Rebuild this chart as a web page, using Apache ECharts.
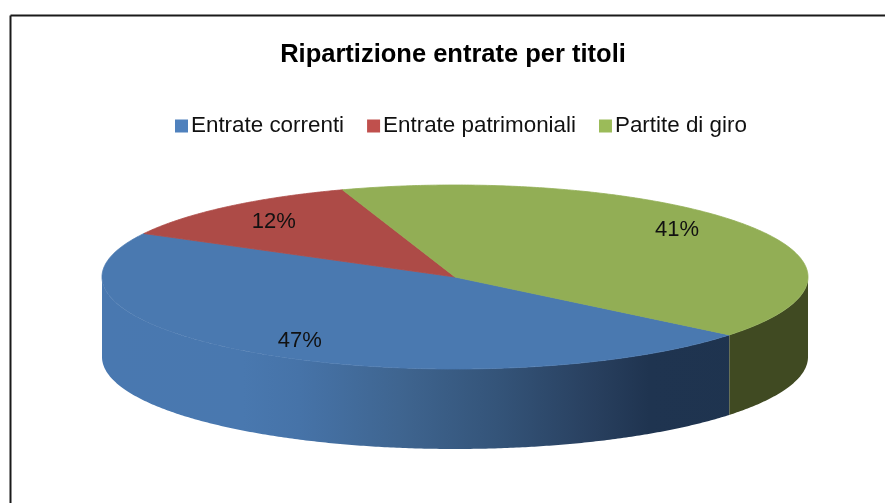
<!DOCTYPE html>
<html>
<head>
<meta charset="utf-8">
<style>html,body{margin:0;padding:0;background:#fff}#c{width:885px;height:503px}</style>
<script src="https://cdn.jsdelivr.net/npm/echarts@6/dist/echarts.min.js"></script>
</head>
<body>
<div id="c"></div>
<script>
const categories = ['Entrate correnti', 'Entrate patrimoniali', 'Partite di giro'];
const values = [47, 12, 41];
const percentLabels = ['47%', '12%', '41%'];
const legendColors = ['#4F81BD', '#C0504D', '#9BBB59'];
const topColors = ['#4A79B0', '#AD4B47', '#92AE55'];
const titleText = 'Ripartizione entrate per titoli';

// Layout of the tilted disc (pixels)
const disc = { cx: 455, cy: 277, rx: 353, ry: 92, depth: 80, startDeg: 39 };
const labelRadius = [0.8, 0.8, 0.78];
const labelNudge = [[1, 3], [1, 1], [-4, -6]];
const font = '"Liberation Sans", Arial, sans-serif';

const total = values.reduce((a, b) => a + b, 0);
const spans = [];
values.reduce((acc, v) => {
  const a0 = acc, a1 = acc + v / total * 360;
  spans.push([a0, a1]);
  return a1;
}, disc.startDeg);

const pt = (deg, dy) => {
  const r = deg * Math.PI / 180;
  return [disc.cx + disc.rx * Math.cos(r), disc.cy + disc.ry * Math.sin(r) + (dy || 0)];
};
const arcPts = (a0, a1, dy) => {
  const out = [], n = Math.max(2, Math.ceil(Math.abs(a1 - a0) * 2));
  for (let i = 0; i <= n; i++) out.push(pt(a0 + (a1 - a0) * i / n, dy));
  return out;
};

// The near wall is visible where the rim runs along the front of the disc
function wallRanges(a0, a1) {
  const res = [];
  for (const k of [-360, 0, 360]) {
    const s = Math.max(a0, k), e = Math.min(a1, k + 180);
    if (e > s) res.push([s, e]);
  }
  return res;
}
const wallFill = [
  { type: 'linear', x: disc.cx - disc.rx, y: 0, x2: disc.cx + disc.rx, y2: 0, global: true,
    colorStops: [
      { offset: 0, color: '#4978B0' },
      { offset: 0.2, color: '#4978AF' },
      { offset: 0.28, color: '#4673A8' },
      { offset: 0.42, color: '#3F6590' },
      { offset: 0.56, color: '#345479' },
      { offset: 0.7, color: '#283F5E' },
      { offset: 0.775, color: '#1F3450' },
      { offset: 1, color: '#1E334E' }
    ] },
  '#7B3331',
  '#404A22'
];

const makeWalls = idx => ({
  type: 'custom',
  name: categories[idx],
  coordinateSystem: 'none',
  silent: true,
  z: 2,
  itemStyle: { color: legendColors[idx] },
  data: [values[idx]],
  renderItem: () => ({
    type: 'group',
    children: [
      ...wallRanges(spans[idx][0], spans[idx][1]).map(([s, e]) => ({
        type: 'polygon',
        z2: 1,
        shape: { points: [...arcPts(s, e, 0), ...arcPts(e, s, disc.depth)] },
        style: { fill: wallFill[idx] }
      })),
      {
        type: 'polygon',
        z2: 2,
        shape: { points: [[disc.cx, disc.cy], ...arcPts(spans[idx][0], spans[idx][1], 0)] },
        style: { fill: topColors[idx], stroke: topColors[idx], lineWidth: 0.8 }
      },
      {
        type: 'text',
        z2: 3,
        style: (() => {
          const mid = (spans[idx][0] + spans[idx][1]) / 2 * Math.PI / 180;
          return {
            x: disc.cx + disc.rx * labelRadius[idx] * Math.cos(mid) + labelNudge[idx][0],
            y: disc.cy + disc.ry * labelRadius[idx] * Math.sin(mid) + labelNudge[idx][1],
            text: percentLabels[idx],
            align: 'center',
            verticalAlign: 'middle',
            fill: '#111',
            font: '22px ' + font
          };
        })()
      }
    ]
  })
});

const chart = echarts.init(document.getElementById('c'), null, { renderer: 'canvas' });
chart.setOption({
  animation: false,
  backgroundColor: '#fff',
  title: {
    text: titleText,
    left: 448,
    textAlign: 'center',
    top: 37,
    textStyle: { fontFamily: font, fontSize: 25.5, fontWeight: 'bold', color: '#000' }
  },
  legend: {
    left: 170,
    top: 110,
    itemWidth: 13,
    itemHeight: 13,
    itemGap: 23,
    icon: 'rect',
    selectedMode: false,
    textStyle: { fontFamily: font, fontSize: 22.4, color: '#111', padding: [0, 0, 0, -2] },
    data: categories
  },
  graphic: [
    { type: 'line', shape: { x1: 10.5, y1: 15.5, x2: 885, y2: 15.5 }, style: { stroke: '#1a1a1a', lineWidth: 2 } },
    { type: 'line', shape: { x1: 10.5, y1: 15.5, x2: 10.5, y2: 503 }, style: { stroke: '#1a1a1a', lineWidth: 2 } }
  ],
  series: categories.map((_, i) => makeWalls(i))
});
</script>
</body>
</html>
